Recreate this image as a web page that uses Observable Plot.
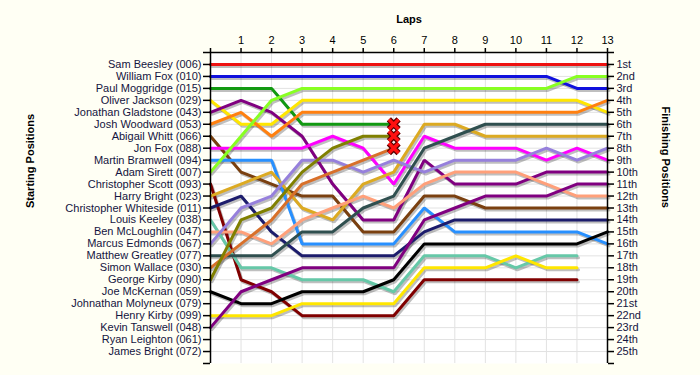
<!DOCTYPE html>
<html>
<head>
<meta charset="utf-8">
<script src="https://cdn.jsdelivr.net/npm/d3@7"></script>
<script src="https://cdn.jsdelivr.net/npm/@observablehq/plot@0.6"></script>
<style>
  html, body { margin: 0; padding: 0; background: #fffff4; }
  #chart { width: 700px; height: 375px; }
</style>
</head>
<body>
<div id="chart"></div>
<script>
// Starting grid (tick labels of left axis)
const drivers = [
  "Sam Beesley (006)", "William Fox (010)", "Paul Moggridge (015)", "Oliver Jackson (029)",
  "Jonathan Gladstone (043)", "Josh Woodward (053)", "Abigail Whitt (066)", "Jon Fox (088)",
  "Martin Bramwell (094)", "Adam Sirett (007)", "Christopher Scott (093)", "Harry Bright (023)",
  "Christopher Whiteside (011)", "Louis Keeley (038)", "Ben McLoughlin (047)", "Marcus Edmonds (067)",
  "Matthew Greatley (077)", "Simon Wallace (030)", "George Kirby (090)", "Joe McKernan (059)",
  "Johnathan Molyneux (079)", "Henry Kirby (099)", "Kevin Tanswell (048)", "Ryan Leighton (061)",
  "James Bright (072)"
];
// Finishing position tick labels (right axis)
const finishing = ["1st","2nd","3rd","4th","5th","6th","7th","8th","9th","10th","11th","12th","13th",
  "14th","15th","16th","17th","18th","19th","20th","21st","22nd","23rd","24th","25th"];
// Lap tick labels
const lapTicks = [1,2,3,4,5,6,7,8,9,10,11,12,13];

// Position per lap (lap 0 .. last completed lap), one array per driver in grid order
const positions = [
  [1,1,1,1,1,1,1,1,1,1,1,1,1,1],
  [2,2,2,2,2,2,2,2,2,2,2,2,3,3],
  [3,3,3,6,6,6,6],
  [4,6,6,4,4,4,4,4,4,4,4,4,4,5],
  [5,4,5,7,11,14,14,9,11,11,11,10,10,10],
  [6,5,7,5,5,5,5,5,5,5,5,5,5,4],
  [7,10,11,12,12,15,15,12,12,13,13,13,13,13],
  [8,8,8,8,7,8,11,7,8,8,8,9,8,9],
  [9,9,9,16,16,16,16,13,15,15,15,15,15,16],
  [10,7,4,3,3,3,3,3,3,3,3,3,2,2],
  [11,19,20,22,22,22,22,19,19,19,19,19,19],
  [12,11,10,13,14,11,10,6,6,7,7,7,7,7],
  [13,12,15,17,17,17,17,15,14,14,14,14,14,14],
  [14,18,18,19,19,19,20,17,17,17,18,17,17],
  [15,15,16,14,13,12,13,11,10,10,10,11,12,12],
  [16,13,12,9,9,10,9,10,9,9,9,8,9,8],
  [17,17,17,15,15,13,12,8,7,6,6,6,6,6],
  [18,16,14,11,10,9,8],
  [19,14,13,10,8,7,7],
  [20,21,21,20,20,20,19,16,16,16,16,16,16,15],
  [],
  [22,22,22,21,21,21,21,18,18,18,17,18,18],
  [23,20,19,18,18,18,18,14,13,12,12,12,11,11],
  [],
  []
];

// Line colours, grid order
const colors = [
  "#ee1111", "#1010dd", "#119911", "#ffe600", "#800080", "#ff8010", "#7a4010", "#ff00ff",
  "#2890ff", "#88ff22", "#800000", "#dcaa22", "#1c1c6c", "#66c8a8", "#ffa07a", "#9680dc",
  "#2f4f4f", "#d8702a", "#808000", "#000000", "#999999", "#ffe600", "#800080", "#999999", "#999999"
];

const data = [];
positions.forEach((arr, i) => arr.forEach((p, lap) => data.push({driver: drivers[i], lap, pos: p})));
const retired = [];
positions.forEach((arr, i) => { if (arr.length > 0 && arr.length < 12) retired.push({lap: arr.length - 1, pos: arr[arr.length - 1]}); });

const font = "Liberation Sans, Arial, sans-serif";

const chart = Plot.plot({
  width: 700,
  height: 375,
  marginLeft: 210,
  marginRight: 93,
  marginTop: 52,
  marginBottom: 12,
  style: {fontFamily: font, fontSize: "11px", background: "transparent", color: "#000"},
  x: {domain: [0, 13], axis: null},
  y: {domain: [0, 26], reverse: true, axis: null},
  color: {domain: drivers, range: colors},
  marks: [
    Plot.frame({fill: "#ffffff", stroke: "none"}),
    Plot.ruleX(d3.range(1, 13), {stroke: "#e2e2e2", strokeWidth: 1}),
    Plot.ruleY(d3.range(1, 26), {stroke: "#e2e2e2", strokeWidth: 1}),
    Plot.line(data, {x: "lap", y: "pos", z: "driver", stroke: "#000", strokeOpacity: 0.25, strokeWidth: 3, dx: 1.5, dy: 2, strokeLinejoin: "miter", curve: "linear"}),
    Plot.line(data, {x: "lap", y: "pos", z: "driver", stroke: "driver", strokeWidth: 3, strokeLinejoin: "miter", curve: "linear"}),
    Plot.dot(retired, {x: "lap", y: "pos", symbol: "times", r: 4.5, stroke: "#5a0000", strokeWidth: 6}),
    Plot.dot(retired, {x: "lap", y: "pos", symbol: "times", r: 4.5, stroke: "#ff1010", strokeWidth: 3.5}),
    Plot.ruleX([0, 13], {stroke: "#000", strokeWidth: 1.5}),
    Plot.ruleY([0], {stroke: "#000", strokeWidth: 1.5}),
    Plot.axisX({anchor: "top", ticks: [0, ...lapTicks], tickFormat: d => d === 0 ? "" : String(d), tickSize: 5, tickPadding: 4, label: null, fill: "#000", stroke: "#000", strokeWidth: 1.5}),
    Plot.axisY({anchor: "left", ticks: d3.range(0, 27), tickFormat: d => drivers[d - 1] ?? "", tickSize: 7, tickPadding: 2, label: null, fill: "#141440", stroke: "#000", strokeWidth: 1.5}),
    Plot.axisY({anchor: "right", ticks: d3.range(0, 27), tickFormat: d => finishing[d - 1] ?? "", tickSize: 6, tickPadding: 3, label: null, fill: "#141440", stroke: "#000", strokeWidth: 1.5}),
    Plot.text(["Laps"], {frameAnchor: "top", dy: -37, fontWeight: "bold", fontSize: 11, fill: "#000"}),
    Plot.text(["Starting Positions"], {frameAnchor: "left", dx: -180, rotate: -90, fontWeight: "bold", fontSize: 11, fill: "#000"}),
    Plot.text(["Finishing Positions"], {frameAnchor: "right", dx: 58, rotate: 90, fontWeight: "bold", fontSize: 11, fill: "#000"})
  ]
});
document.getElementById("chart").appendChild(chart);
</script>
</body>
</html>
